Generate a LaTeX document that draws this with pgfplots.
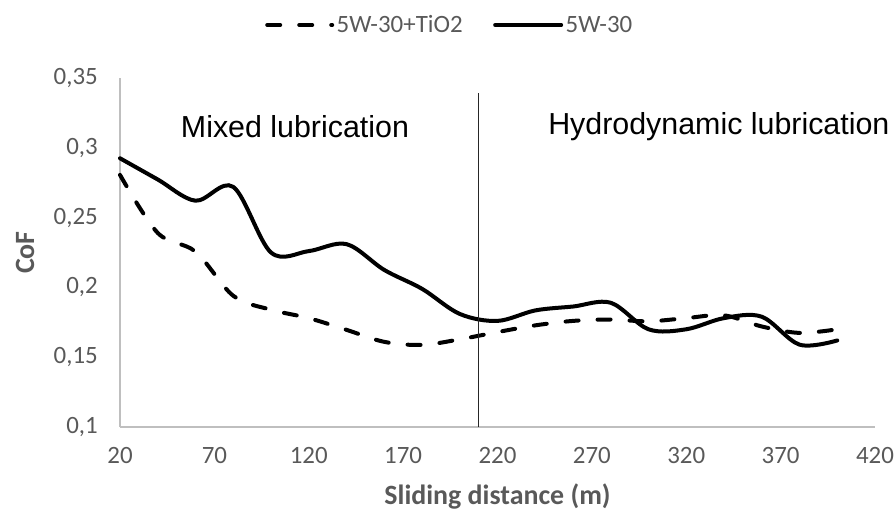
\documentclass[border=0pt]{standalone}
\usepackage{fontspec}
\setmainfont{Carlito}
\newfontfamily\arialf{Liberation Sans}
\usepackage{pgfplots}
\pgfplotsset{compat=1.18}
\usetikzlibrary{calc}
\definecolor{txt}{HTML}{595959}
\definecolor{axl}{HTML}{BFBFBF}
\pgfplotsset{
  dashleg/.style={legend image code/.code={\draw[##1] (0bp,0bp) -- (65bp,0bp);}},
  solleg/.style={legend image code/.code={\draw[##1] (2bp,0bp) -- (68bp,0bp);}},
}
\begin{document}
\begin{tikzpicture}
\begin{axis}[
  name=ax,
  scale only axis, width=755bp, height=349bp,
  xmin=20, xmax=420, ymin=0.1, ymax=0.35,
  xtick={20,70,120,170,220,270,320,370,420},
  ytick={0.1,0.15,0.2,0.25,0.3,0.35},
  axis x line=bottom, axis y line=left,
  axis line style={-, draw=axl, line width=1.2bp},
  major tick length=0pt,
  clip=false,
  /pgf/number format/assume math mode=true,
  tick label style={font=\fontsize{25}{30}\selectfont, text=txt},
  yticklabel style={/pgf/number format/.cd, fixed, precision=2, use comma, /tikz/.cd, anchor=east, inner sep=0pt, xshift=-22bp},
  xticklabel style={/pgf/number format/.cd, fixed, precision=0, /tikz/.cd, anchor=center, yshift=-29bp},
  xlabel={Sliding distance (m)},
  ylabel={CoF},
  xlabel style={font=\bfseries\fontsize{28}{32}\selectfont, text=txt, at={(axis description cs:0.5,0)}, anchor=center, yshift=-70bp},
  ylabel style={font=\bfseries\fontsize{28}{32}\selectfont, text=txt, at={(axis description cs:0,0.5)}, anchor=center, yshift=95bp},
  legend columns=2,
  legend cell align=left,
  legend style={draw=none, fill=none, at={(axis description cs:0.5,1)}, anchor=center, xshift=-47.5bp, yshift=53bp,
    font=\fontsize{25}{30}\selectfont, text=txt,
    /tikz/every even column/.append style={column sep=28bp},
    nodes={inner sep=2.5bp}},
]
\addplot[black, line width=4bp, line cap=round, dash pattern=on 13bp off 19bp, smooth, tension=0.55, dashleg] coordinates {
 (20,0.2806) (40,0.239) (60,0.2256) (80,0.194) (100,0.184) (120,0.178)
 (140,0.1696) (160,0.161) (180,0.1588) (200,0.1628) (220,0.168) (240,0.1728)
 (260,0.176) (280,0.177) (300,0.1757) (320,0.178) (340,0.180) (360,0.172)
 (380,0.1674) (400,0.170)};
\addlegendentry{5W-30+TiO2}
\addplot[black, line width=4bp, line cap=round, smooth, tension=0.55, solleg] coordinates {
 (20,0.2925) (40,0.2773) (60,0.2621) (80,0.272) (100,0.225) (120,0.226)
 (140,0.231) (160,0.2125) (180,0.199) (200,0.181) (220,0.176) (240,0.1835)
 (260,0.1863) (280,0.189) (300,0.170) (320,0.170) (340,0.178) (360,0.179)
 (380,0.159) (400,0.162)};
\addlegendentry{5W-30}
\addplot[black!85, line width=1.3bp, forget plot] coordinates {(210,0.1) (210,0.339)};
\node[font=\arialf\fontsize{30.5}{34}\selectfont, anchor=center, inner sep=0pt] at (axis cs:112.7,0.315) {Mixed lubrication};
\node[font=\arialf\fontsize{30.5}{34}\selectfont, anchor=west, inner sep=0pt] at (axis cs:246.8,0.315) {Hydrodynamic lubrication};
\end{axis}
\pgfresetboundingbox
\path ($(ax.south west)+(-120bp,-93bp)$) rectangle ++(894bp,520bp);
\end{tikzpicture}
\end{document}
